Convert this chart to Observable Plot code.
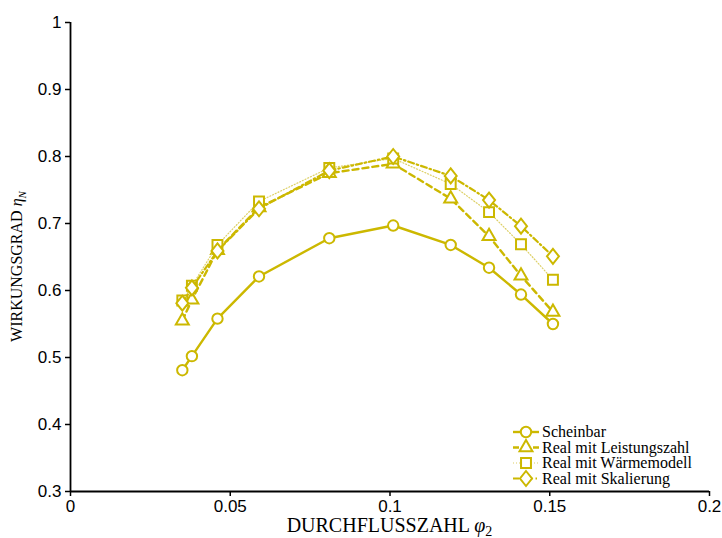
<!DOCTYPE html>
<html>
<head>
<meta charset="utf-8">
<script src="https://cdn.jsdelivr.net/npm/d3@7"></script>
<script src="https://cdn.jsdelivr.net/npm/@observablehq/plot@0.6"></script>
<style>
  body { margin: 0; background: #fff; }
  #chart { width: 722px; height: 538px; }
</style>
</head>
<body>
<div id="chart"></div>
<script>
// Durchflusszahl φ2 (shared by all series)
const phi = [0.035, 0.038, 0.046, 0.059, 0.081, 0.101, 0.119, 0.131, 0.141, 0.151];

// Wirkungsgrad ηN per model
const etaScheinbar      = [0.481, 0.502, 0.558, 0.621, 0.678, 0.697, 0.668, 0.634, 0.594, 0.550];
const etaLeistungszahl  = [0.555, 0.586, 0.660, 0.724, 0.775, 0.789, 0.737, 0.681, 0.622, 0.568];
const etaWaermemodell   = [0.585, 0.607, 0.668, 0.733, 0.783, 0.797, 0.759, 0.717, 0.669, 0.616];
const etaSkalierung     = [0.581, 0.604, 0.659, 0.722, 0.779, 0.800, 0.771, 0.735, 0.696, 0.651];

const seriesNames = ["Scheinbar", "Real mit Leistungszahl", "Real mit Wärmemodell", "Real mit Skalierung"];

const xTicks = [0, 0.05, 0.1, 0.15, 0.2];
const yTicks = [0.3, 0.4, 0.5, 0.6, 0.7, 0.8, 0.9, 1];

const gold = "#ccb800";
const goldLight = "#ddd066";

// narrow diamond marker
const diamond = {
  draw(ctx) {
    const h = 7.5, w = 6;
    ctx.moveTo(0, -h); ctx.lineTo(w, 0); ctx.lineTo(0, h); ctx.lineTo(-w, 0); ctx.closePath();
  }
};

const styles = [
  {symbol: "circle",   r: 5.2, dash: null,          lw: 2.4, lc: gold},
  {symbol: "triangle", r: 4.8, dash: "6,4",         lw: 2.4, lc: gold},
  {symbol: "square",   r: 5.6, dash: "1,2",         lw: 1.2, lc: goldLight},
  {symbol: diamond,    r: 6,   dash: "6,3,1.5,3",   lw: 2.2, lc: gold}
];

const etaSeries = [etaScheinbar, etaLeistungszahl, etaWaermemodell, etaSkalierung];
const tables = etaSeries.map(eta => phi.map((p, i) => ({phi: p, eta: eta[i]})));

const fmt = d3.format("~g");

const marks = [];
tables.forEach((data, k) => {
  const s = styles[k];
  marks.push(Plot.line(data, {x: "phi", y: "eta", stroke: s.lc, strokeWidth: s.lw, strokeDasharray: s.dash}));
  marks.push(Plot.dot(data, {x: "phi", y: "eta", symbol: s.symbol, r: s.r, stroke: gold, strokeWidth: 2, fill: "white"}));
});

const chart = Plot.plot({
  width: 722,
  height: 538,
  marginLeft: 70,
  marginRight: 13,
  marginTop: 22,
  marginBottom: 47,
  style: "font-family: 'Liberation Sans', Arial, sans-serif; font-size: 17px; background: white; color: black; overflow: visible;",
  x: {domain: [0, 0.2]},
  y: {domain: [0.3, 1]},
  marks: [
    Plot.axisX({ticks: xTicks, tickSize: 5, tickPadding: 3, tickFormat: fmt, label: null, strokeWidth: 1.5}),
    Plot.axisY({ticks: yTicks, tickSize: 5, tickPadding: 4, tickFormat: fmt, label: null, strokeWidth: 1.5}),
    Plot.ruleX([0], {stroke: "black", strokeWidth: 1.8}),
    Plot.ruleY([0.3], {stroke: "black", strokeWidth: 1.8}),
    ...marks
  ]
});

document.getElementById("chart").appendChild(chart);

// axis titles with math symbols
const svg = d3.select(chart);
const xr = chart.scale("x").range;
const yr = chart.scale("y").range;
const serif = "'Liberation Serif', 'Times New Roman', serif";

const xl = svg.append("text")
  .attr("x", (xr[0] + xr[1]) / 2).attr("y", 532)
  .attr("text-anchor", "middle")
  .attr("font-family", serif).attr("font-size", 20).attr("fill", "black");
xl.append("tspan").text("DURCHFLUSSZAHL ");
xl.append("tspan").attr("font-style", "italic").text("φ");
xl.append("tspan").attr("font-size", 14).attr("dy", 4).text("2");

const yl = svg.append("text")
  .attr("transform", `translate(22,${(yr[0] + yr[1]) / 2 + 10}) rotate(-90)`)
  .attr("text-anchor", "middle")
  .attr("font-family", serif).attr("font-size", 16).attr("fill", "black");
yl.append("tspan").text("WIRKUNGSGRAD ");
yl.append("tspan").attr("font-style", "italic").text("η");
yl.append("tspan").attr("font-style", "italic").attr("font-size", 11).attr("dy", 4).text("N");

// legend, lower right inside the frame
const legend = svg.append("g").attr("transform", `translate(${xr[1] - 196},${yr[0] - 59})`);
seriesNames.forEach((name, k) => {
  const s = styles[k];
  const g = legend.append("g").attr("transform", `translate(0,${k * 15.5})`);
  g.append("line").attr("x1", 0).attr("x2", 26).attr("y1", 0).attr("y2", 0)
    .attr("stroke", s.lc).attr("stroke-width", s.lw).attr("stroke-dasharray", s.dash);
  const sym = typeof s.symbol === "string"
    ? d3.symbol({circle: d3.symbolCircle, triangle: d3.symbolTriangle, square: d3.symbolSquare}[s.symbol], Math.PI * s.r * s.r)
    : d3.symbol(s.symbol);
  g.append("path").attr("d", sym()).attr("transform", "translate(13,0)")
    .attr("fill", "white").attr("stroke", gold).attr("stroke-width", 2);
  g.append("text").attr("x", 29).attr("y", 0).attr("dy", "0.32em")
    .attr("text-anchor", "start")
    .attr("font-family", serif).attr("font-size", 16).attr("fill", "black").text(name);
});
</script>
</body>
</html>
